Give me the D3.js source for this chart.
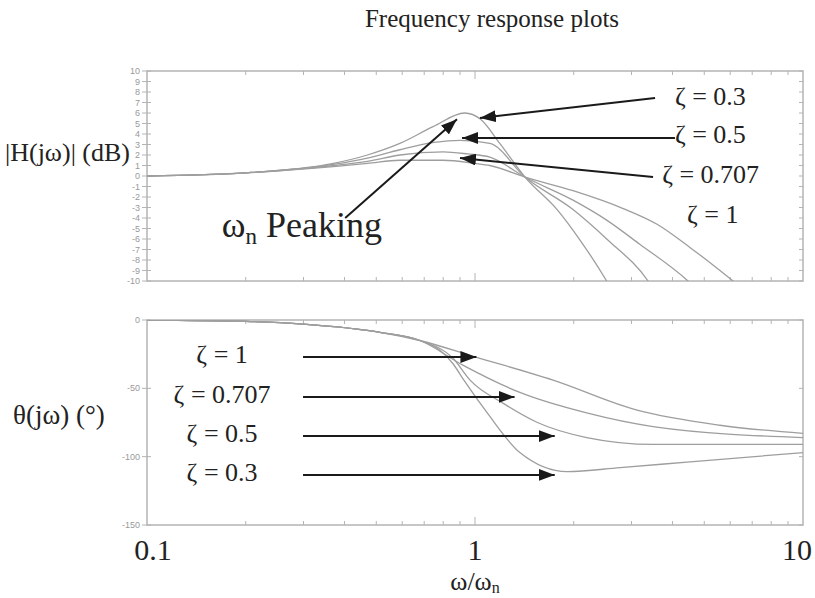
<!DOCTYPE html>
<html>
<head>
<meta charset="utf-8">
<script src="https://cdn.jsdelivr.net/npm/d3@7"></script>
<style>
  body { margin: 0; background: #fff; }
  .serif { font-family: "Liberation Serif", "DejaVu Serif", serif; fill: #222; }
  .small { font-family: "Liberation Sans", Arial, sans-serif; font-size: 9px; fill: #999; }
</style>
</head>
<body>
<svg id="chart" width="815" height="598"></svg>
<script>
// x axis: w / wn, log scale
const omegaLabels = [0.1, 1, 10];
const zetaNames = ["0.3", "0.5", "0.707", "1"];

// magnitude |H(jw)| in dB, [w/wn, dB]
const magZeta03 = [[0.1,0],[0.2,0.3],[0.37,1.2],[0.47,2.0],[0.59,3.1],[0.745,4.7],[0.93,6.0],[1.04,5.4],[1.19,3.1],[1.42,-0.1],[1.78,-3.2],[2.09,-6.1],[2.52,-10],[2.8,-12.5]];
const magZeta05 = [[0.1,0],[0.2,0.3],[0.37,1.1],[0.47,1.7],[0.59,2.5],[0.75,3.2],[0.9,3.4],[1.11,3.1],[1.42,-0.1],[1.99,-3.2],[2.52,-6.0],[3.37,-10],[3.7,-12]];
const magZeta0707 = [[0.1,0],[0.2,0.3],[0.37,1.0],[0.47,1.4],[0.59,2.0],[0.8,2.3],[0.95,2.1],[1.11,1.8],[1.42,-0.1],[1.99,-2.3],[2.52,-4.2],[3.18,-6.5],[4.46,-10],[5,-11.5]];
const magZeta1 = [[0.1,0],[0.2,0.3],[0.37,0.9],[0.47,1.2],[0.59,1.5],[0.8,1.5],[1.0,1.2],[1.11,1.0],[1.42,-0.1],[1.99,-1.4],[2.83,-3.1],[3.59,-4.6],[4.52,-6.8],[6.12,-10],[7,-11.5]];

// phase theta(jw) in degrees
const phZeta03 = [[0.1,0],[0.2,-1],[0.3,-3],[0.513,-9],[0.679,-15],[0.78,-22],[0.857,-32],[0.925,-44],[1.09,-68],[1.37,-97],[1.91,-111],[2.77,-108],[4.43,-104],[10,-97]];
const phZeta05 = [[0.1,0],[0.2,-1],[0.3,-3],[0.513,-9],[0.679,-15],[0.857,-28],[0.966,-44],[1.22,-61],[1.55,-75],[2.19,-86],[3.49,-91],[10,-91]];
const phZeta0707 = [[0.1,0],[0.2,-1],[0.3,-3],[0.513,-9],[0.679,-15],[0.918,-33],[1.37,-53],[2.19,-68],[3.49,-78],[10,-86]];
const phZeta1 = [[0.1,0],[0.2,-1],[0.3,-3],[0.513,-9],[0.679,-15],[1.0,-27],[1.73,-44],[3.12,-66],[5.58,-77],[10,-83]];

const magTicks = d3.range(-10, 11, 1);
const phaseTicks = [0, -50, -100, -150];

// annotation anchors in data units
const magLabelAt = [[4.07,6.76],[4.07,3.14],[3.72,-0.67],[4.43,-4.48]];
const magArrowFrom = [[3.54,7.43],[4.07,3.62],[3.49,-0.1]];
const magArrowTo = [[1.035,5.52],[0.913,3.62],[0.90,1.71]];
const peakArrow = [[0.402,-4.0],[0.881,5.4]];
const peakLabelAt = [0.169,-5.8];
const phLabelAt = [[0.1694,-31.5],[0.1694,-60.7],[0.1694,-89.2],[0.1694,-117.8]];
const phArrowFrom = [[0.299,-27.1],[0.299,-56.3],[0.299,-84.9],[0.299,-113.4]];
const phArrowTo = [[1.01,-27.1],[1.32,-56.3],[1.75,-84.9],[1.75,-113.4]];

const margin = { left: 147, right: 12 };
const width = 815 - margin.left - margin.right;
const top1 = 71, bottom1 = 281, top2 = 320, bottom2 = 525;

const svg = d3.select("#chart");

const x = d3.scaleLog().domain([0.1, 10]).range([margin.left, margin.left + width]);
const yMag = d3.scaleLinear().domain([-10, 10]).range([bottom1, top1]);
const yPh = d3.scaleLinear().domain([-150, 0]).range([bottom2, top2]);

// arrow head
svg.append("defs").append("marker")
    .attr("id", "head")
    .attr("viewBox", "0 0 16 12")
    .attr("refX", 16).attr("refY", 6)
    .attr("markerWidth", 16).attr("markerHeight", 12)
    .attr("markerUnits", "userSpaceOnUse")
    .attr("orient", "auto")
    .append("path").attr("d", "M0,0 L16,6 L0,12 Z").attr("fill", "#1a1a1a");

svg.select("defs").append("clipPath").attr("id", "clipTop")
    .append("rect").attr("x", x.range()[0]).attr("y", top1)
    .attr("width", width).attr("height", bottom1 - top1);
svg.select("defs").append("clipPath").attr("id", "clipBot")
    .append("rect").attr("x", x.range()[0]).attr("y", top2)
    .attr("width", width).attr("height", bottom2 - top2);

const minorTicks = [0.2,0.3,0.4,0.5,0.6,0.7,0.8,0.9,2,3,4,5,6,7,8,9];

function drawFrame(y, yTop, yBottom, yTicks, tickLen) {
    const g = svg.append("g");
    g.append("rect")
        .attr("x", x.range()[0]).attr("y", yTop)
        .attr("width", width).attr("height", yBottom - yTop)
        .attr("fill", "none").attr("stroke", "#b4b4b4").attr("stroke-width", 1.5);
    // log ticks on top and bottom edges
    [yTop, yBottom].forEach((edge, i) => {
        const dir = i === 0 ? 1 : -1;
        g.selectAll(null).data(minorTicks.concat([1])).enter().append("line")
            .attr("x1", d => x(d)).attr("x2", d => x(d))
            .attr("y1", edge).attr("y2", d => edge + dir * (d === 1 ? 8 : 4))
            .attr("stroke", "#b4b4b4").attr("stroke-width", 1);
    });
    // y ticks on left and right
    [x.range()[0], x.range()[1]].forEach((edge, i) => {
        const dir = i === 0 ? 1 : -1;
        g.selectAll(null).data(yTicks).enter().append("line")
            .attr("x1", edge - (i === 0 ? 5 : 0)).attr("x2", edge + dir * tickLen)
            .attr("y1", d => y(d)).attr("y2", d => y(d))
            .attr("stroke", "#b4b4b4").attr("stroke-width", 1);
    });
    g.selectAll(null).data(yTicks).enter().append("text")
        .attr("class", "small")
        .attr("x", x.range()[0] - 7).attr("y", d => y(d))
        .attr("dy", "0.35em").attr("text-anchor", "end")
        .text(d => d);
}

drawFrame(yMag, top1, bottom1, magTicks, 4);
drawFrame(yPh, top2, bottom2, phaseTicks, 4);

const lineMag = d3.line().x(d => x(d[0])).y(d => yMag(d[1])).curve(d3.curveMonotoneX);
const linePh = d3.line().x(d => x(d[0])).y(d => yPh(d[1])).curve(d3.curveMonotoneX);

svg.append("g").attr("clip-path", "url(#clipTop)")
    .selectAll("path").data([magZeta03, magZeta05, magZeta0707, magZeta1]).enter()
    .append("path").attr("d", lineMag)
    .attr("fill", "none").attr("stroke", "#9e9e9e").attr("stroke-width", 1.3);

svg.append("g").attr("clip-path", "url(#clipBot)")
    .selectAll("path").data([phZeta03, phZeta05, phZeta0707, phZeta1]).enter()
    .append("path").attr("d", linePh)
    .attr("fill", "none").attr("stroke", "#9e9e9e").attr("stroke-width", 1.3);

// zeta labels, top plot
function zetaText(sel, name) {
    sel.append("tspan").text("ζ");
    sel.append("tspan").text(" = " + name);
}

svg.append("g").selectAll("text").data(zetaNames).enter().append("text")
    .attr("class", "serif").attr("font-size", 26)
    .attr("x", (d, i) => x(magLabelAt[i][0])).attr("y", (d, i) => yMag(magLabelAt[i][1]))
    .each(function(d) { zetaText(d3.select(this), d); });

svg.append("g").selectAll("line").data(magArrowFrom).enter().append("line")
    .attr("x1", d => x(d[0])).attr("y1", d => yMag(d[1]))
    .attr("x2", (d, i) => x(magArrowTo[i][0])).attr("y2", (d, i) => yMag(magArrowTo[i][1]))
    .attr("stroke", "#1a1a1a").attr("stroke-width", 2).attr("marker-end", "url(#head)");

svg.append("line")
    .attr("x1", x(peakArrow[0][0])).attr("y1", yMag(peakArrow[0][1]))
    .attr("x2", x(peakArrow[1][0])).attr("y2", yMag(peakArrow[1][1]))
    .attr("stroke", "#1a1a1a").attr("stroke-width", 2).attr("marker-end", "url(#head)");

const peak = svg.append("text").attr("class", "serif").attr("font-size", 36)
    .attr("x", x(peakLabelAt[0])).attr("y", yMag(peakLabelAt[1]));
peak.append("tspan").text("ω");
peak.append("tspan").attr("font-size", 23).attr("dy", 7).text("n");
peak.append("tspan").attr("dy", -7).text(" Peaking");

// zeta labels, bottom plot
svg.append("g").selectAll("text").data(zetaNames.slice().reverse()).enter().append("text")
    .attr("class", "serif").attr("font-size", 26).attr("text-anchor", "middle")
    .attr("x", (d, i) => x(phLabelAt[i][0])).attr("y", (d, i) => yPh(phLabelAt[i][1]))
    .each(function(d) { zetaText(d3.select(this), d); });

svg.append("g").selectAll("line").data(phArrowFrom).enter().append("line")
    .attr("x1", d => x(d[0])).attr("y1", d => yPh(d[1]))
    .attr("x2", (d, i) => x(phArrowTo[i][0])).attr("y2", (d, i) => yPh(phArrowTo[i][1]))
    .attr("stroke", "#1a1a1a").attr("stroke-width", 2).attr("marker-end", "url(#head)");

// big x tick labels
svg.append("g").selectAll("text").data(omegaLabels).enter().append("text")
    .attr("class", "serif").attr("font-size", 30).attr("text-anchor", "middle")
    .attr("x", (d, i) => x(d) + (i === 0 ? 6 : i === omegaLabels.length - 1 ? -6 : 0))
    .attr("y", 560)
    .text(d => d);

const xl = svg.append("text").attr("class", "serif").attr("font-size", 26)
    .attr("text-anchor", "middle").attr("x", x(1)).attr("y", 590);
xl.append("tspan").text("ω/ω");
xl.append("tspan").attr("font-size", 16).attr("dy", 3).text("n");

// titles
svg.append("text").attr("class", "serif").attr("font-size", 25)
    .attr("text-anchor", "middle").attr("x", 492).attr("y", 27)
    .text("Frequency response plots");

svg.append("text").attr("class", "serif").attr("font-size", 26)
    .attr("x", 5).attr("y", 161)
    .text("|H(jω)| (dB)");

svg.append("text").attr("class", "serif").attr("font-size", 27)
    .attr("x", 13).attr("y", 424)
    .text("θ(jω) (°)");
</script>
</body>
</html>
